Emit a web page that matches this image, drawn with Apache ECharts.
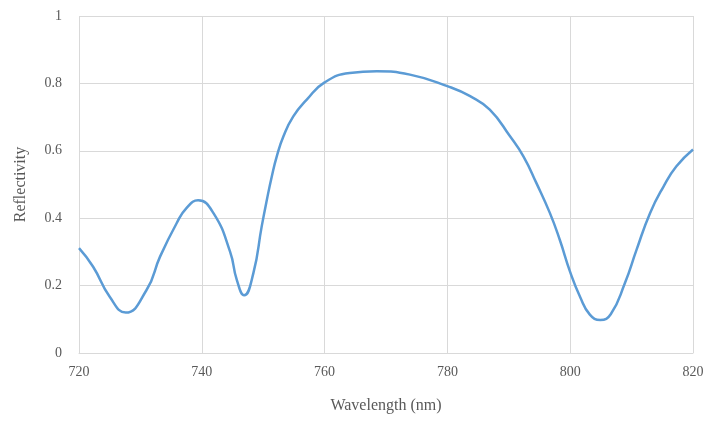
<!DOCTYPE html>
<html>
<head>
<meta charset="utf-8">
<script src="https://cdn.jsdelivr.net/npm/echarts@6/dist/echarts.min.js"></script>
<style>html,body{margin:0;padding:0;background:#fff}#c{width:711px;height:421px}</style>
</head>
<body>
<div id="c"></div>
<script>
const wavelength = [720, 722.3, 725, 727.6, 731, 733.2, 735.9, 737.5, 739.4, 741.9, 744.6, 745.7, 746.9, 748.4, 749.75, 750.6, 751.4, 752.2, 753.3, 754.9, 757.1, 760, 764.1, 768.5, 773.9, 780.1, 783.7, 786.9, 790.2, 792.4, 794.5, 796.7, 798.3, 800, 801.6, 803.2, 804.9, 806.6, 808.9, 810.8, 813, 815.2, 817.3, 820];
const reflectivity = [0.311, 0.256, 0.167, 0.12, 0.187, 0.286, 0.385, 0.43, 0.453, 0.415, 0.301, 0.217, 0.171, 0.237, 0.375, 0.455, 0.524, 0.583, 0.643, 0.702, 0.752, 0.803, 0.831, 0.836, 0.826, 0.791, 0.762, 0.722, 0.643, 0.583, 0.504, 0.415, 0.336, 0.24, 0.167, 0.114, 0.098, 0.115, 0.207, 0.306, 0.415, 0.494, 0.554, 0.604];
const xTicks = [720, 740, 760, 780, 800, 820];
const yTicks = [0, 0.2, 0.4, 0.6, 0.8, 1];

const chart = echarts.init(document.getElementById('c'), null, {renderer: 'canvas'});
const font = '"Liberation Serif", "Times New Roman", serif';
chart.setOption({
  animation: false,
  backgroundColor: '#fff',
  grid: {left: 79, right: 18, top: 16, bottom: 68},
  xAxis: {
    type: 'value', min: 720, max: 820, interval: 20,
    name: 'Wavelength (nm)', nameLocation: 'middle', nameGap: 45,
    nameTextStyle: {fontFamily: font, fontSize: 16, color: '#595959'},
    axisLine: {show: true, lineStyle: {color: '#d9d9d9', width: 1}},
    axisTick: {show: false},
    axisLabel: {fontFamily: font, fontSize: 14, color: '#595959', margin: 12,
      formatter: v => xTicks.includes(v) ? String(v) : ''},
    splitLine: {show: true, lineStyle: {color: '#d9d9d9', width: 1}}
  },
  yAxis: {
    type: 'value', min: 0, max: 1, interval: 0.2,
    name: 'Reflectivity', nameLocation: 'middle', nameGap: 50,
    nameTextStyle: {fontFamily: font, fontSize: 16, color: '#595959'},
    axisLine: {show: false},
    axisTick: {show: false},
    axisLabel: {fontFamily: font, fontSize: 14, color: '#595959', margin: 17,
      formatter: v => { const t = yTicks.find(k => Math.abs(k - v) < 1e-6); return t === undefined ? '' : String(t); }},
    splitLine: {show: true, lineStyle: {color: '#d9d9d9', width: 1}}
  },
  series: [{
    type: 'line',
    data: wavelength.map((w, i) => [w, reflectivity[i]]),
    smooth: 0.5,
    showSymbol: false,
    lineStyle: {color: '#5b9bd5', width: 2.5},
    itemStyle: {color: '#5b9bd5'}
  }]
});
</script>
</body>
</html>
